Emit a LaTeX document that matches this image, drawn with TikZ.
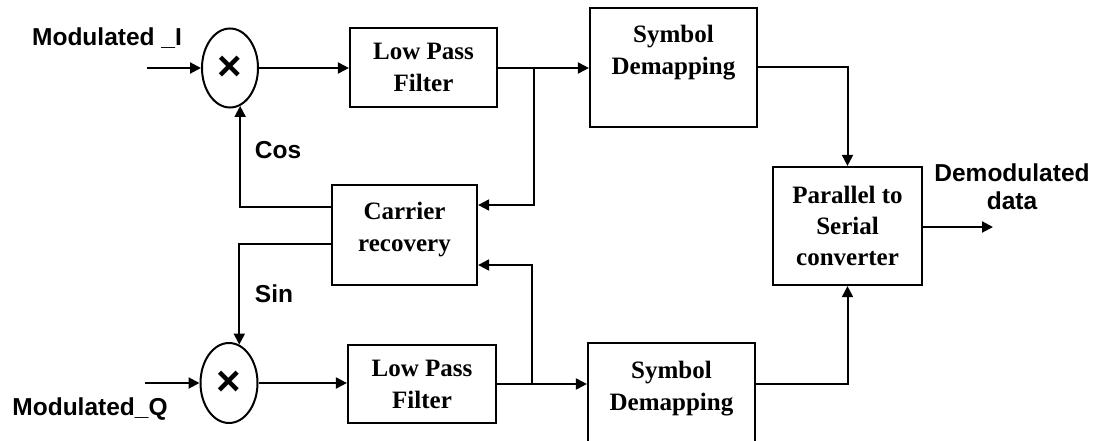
\documentclass[tikz,border=0pt]{standalone}
\usepackage{fontspec}
\setmainfont{Liberation Serif}
\setsansfont{Liberation Sans}
\usetikzlibrary{arrows.meta,shapes.geometric,calc}

\tikzset{
  wire/.style={line width=2pt},
  sig/.style={wire,-{Triangle[length=11pt,width=11pt]}},
  blockbox/.style={draw,line width=2.2pt,rectangle,inner sep=0pt},
  mixer/.style={draw,line width=2pt,ellipse,inner sep=0pt,
    font=\sffamily\bfseries\fontsize{42}{42}\selectfont},
  blocktext/.style={align=center,inner sep=0pt,
    font=\rmfamily\bfseries\fontsize{25}{32}\selectfont},
  sigtext/.style={align=center,inner sep=0pt,
    font=\sffamily\bfseries\fontsize{24.5}{28}\selectfont},
}

\begin{document}
\begin{tikzpicture}[x=1pt,y=-1pt]
  \useasboundingbox (0,0) rectangle (1105,441);
  \clip (0,0) rectangle (1105,441);

  % mixers
  \node[mixer,minimum width=56pt,minimum height=79pt] (m1) at (230,68) {×};
  \node[mixer,minimum width=57pt,minimum height=80pt] (m2) at (229,383) {×};

  % filters
  \node[blockbox,minimum width=147pt,minimum height=79pt] (lpf1) at (423.5,67.5) {};
  \node[blocktext] (lpf1t) at (lpf1.center) {Low Pass\\Filter};
  \node[blockbox,minimum width=148pt,minimum height=78pt] (lpf2) at (422,384) {};
  \node[blocktext] (lpf2t) at (lpf2.center) {Low Pass\\Filter};

  % symbol demappers
  \node[blockbox,minimum width=167pt,minimum height=119pt] (sd1) at (673.5,67.5) {};
  \node[blocktext] (sd1t) at (673.5,53) {Symbol\\Demapping};
  \node[blockbox,minimum width=167pt,minimum height=119pt] (sd2) at (671.5,402.5) {};
  \node[blocktext] (sd2t) at (671.5,389) {Symbol\\Demapping};

  % carrier recovery
  \node[blockbox,minimum width=145pt,minimum height=100pt] (cr) at (404.5,235) {};
  \node[blocktext] (crt) at (404.5,230) {Carrier\\recovery};

  % parallel to serial
  \node[blockbox,minimum width=149pt,minimum height=118pt] (ps) at (847.5,226) {};
  \node[blocktext,font=\rmfamily\bfseries\fontsize{25}{31}\selectfont] (pst) at (847.5,226) {Parallel to\\Serial\\converter};

  % labels
  \node[sigtext] (li) at (107,38) {Modulated \_I};
  \node[sigtext] (lq) at (90,409) {Modulated\_Q};
  \node[sigtext] (lcos) at (278,150) {Cos};
  \node[sigtext] (lsin) at (274,294) {Sin};
  \node[sigtext] (lout) at (1012,187) {Demodulated\\data};

  % free ends
  \coordinate (in1) at (147,68);
  \coordinate (in2) at (145,383);
  \coordinate (out) at (993,227);
  \coordinate (tap1) at (534,68);
  \coordinate (tap2) at (532,384);

  % I branch
  \draw[sig] (in1) -- (m1.west);
  \draw[sig] (m1.east) -- (lpf1.west |- m1.east);
  \draw[sig] (lpf1.east |- tap1) -- (sd1.west |- tap1);
  \draw[sig] (tap1) |- ([yshift=30pt]cr.east);

  % Q branch
  \draw[sig] (in2) -- (m2.west);
  \draw[sig] (m2.east) -- (lpf2.west |- m2.east);
  \draw[sig] (lpf2.east |- tap2) -- (sd2.west |- tap2);
  \draw[sig] (tap2) |- ([yshift=-30pt]cr.east);

  % local oscillator outputs
  \draw[sig] ([yshift=28pt]cr.west) -| (m1.-75);
  \draw[sig] ([yshift=-9pt]cr.west) -| (m2.75);

  % to the serialiser and out
  \draw[sig] (sd1.east) -| (ps.north);
  \draw[sig] (sd2.east |- tap2) -| (ps.south);
  \draw[sig] (ps.east |- out) -- (out);
\end{tikzpicture}
\end{document}
